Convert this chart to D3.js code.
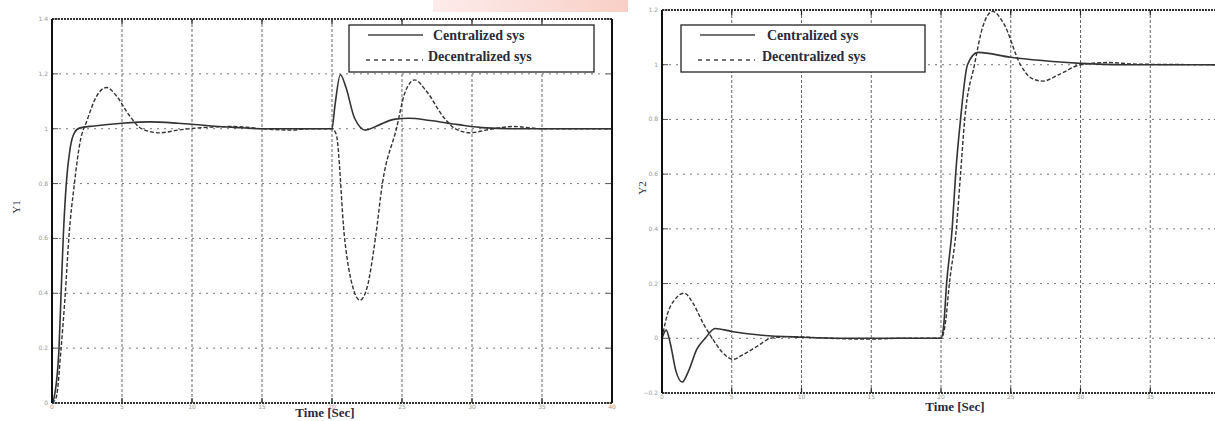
<!DOCTYPE html>
<html>
<head>
<meta charset="utf-8">
<script src="https://cdn.jsdelivr.net/npm/d3@7"></script>
<style>
  body{margin:0;background:#fff;}
  svg{display:block;}
  .grid_h{stroke:#777;stroke-width:1;stroke-dasharray:2,5;}
  .grid_v{stroke:#666;stroke-width:1;stroke-dasharray:3,2;}
  .tick_txt{font-family:"DejaVu Sans",sans-serif;font-size:6px;fill:#999;}
  .leg_txt{font-family:"Liberation Serif",serif;font-size:14px;font-weight:bold;fill:#2a2a3a;}
  .axis_lbl{font-family:"Liberation Serif",serif;font-size:13px;font-weight:bold;fill:#2a2a40;}
</style>
</head>
<body>
<svg></svg>
<script>
// time axis ticks (sec)
const x_ticks = [0,5,10,15,20,25,30,35,40];
const y1_ticks = [0,0.2,0.4,0.6,0.8,1,1.2,1.4];
const y2_ticks = [-0.2,0,0.2,0.4,0.6,0.8,1,1.2];
const leg_names = ['Centralized  sys','Decentralized sys'];

// Y1 response [t, y]
const y1_cen = [[0,0],[0.15,0.02],[0.5,0.2],[0.65,0.4],[0.8,0.6],[1.02,0.8],[1.3,0.93],[1.6,0.985],[2,1.003],[3,1.01],[5,1.02],[7,1.025],[9,1.02],[11,1.012],[13,1.005],[15,1.0],[20,1.0],
  [20.2,1.08],[20.6,1.197],[21,1.15],[21.6,1.04],[22.4,0.995],[23.2,1.01],[24.5,1.035],[25.5,1.038],[27,1.03],[29,1.015],[31,1.003],[33,1.0],[40,1.0]];
const y1_dec = [[0,0],[0.3,0.02],[0.65,0.2],[0.95,0.4],[1.2,0.6],[1.6,0.8],[2.0,0.95],[2.5,1.03],[3.2,1.12],[3.9,1.15],[4.6,1.12],[5.5,1.05],[6.4,1.0],[7.7,0.985],[9,0.995],[11,1.005],[13,1.008],[15,1.0],[17,0.995],[18.5,1.0],[20,1.0],
  [20.3,0.98],[20.9,0.6],[21.5,0.42],[22,0.375],[22.5,0.42],[23.1,0.6],[23.6,0.8],[24.6,1.0],[25.2,1.13],[25.9,1.178],[26.7,1.14],[28,1.04],[28.8,1.0],[29.9,0.985],[31,0.995],[33,1.008],[35,1.0],[40,1.0]];

// Y2 response [t, y]
const y2_cen = [[0,0],[0.3,0.03],[0.6,-0.02],[1.0,-0.12],[1.45,-0.16],[1.9,-0.12],[2.5,-0.04],[3.1,0.0],[3.8,0.036],[5,0.025],[7,0.012],[10,0.004],[13,0.0],[20,0],
  [20.2,0.05],[20.4,0.2],[20.8,0.4],[21.05,0.6],[21.4,0.8],[21.9,1.0],[22.65,1.045],[25,1.027],[28,1.012],[30,1.005],[33,1.0],[40,1.0]];
const y2_dec = [[0,0],[0.4,0.09],[0.9,0.14],[1.6,0.165],[2.2,0.13],[3.0,0.05],[3.6,0.0],[4.3,-0.05],[5.1,-0.077],[5.8,-0.06],[6.8,-0.03],[7.8,0.0],[9,0.006],[10.5,0.004],[12,0.0],[15,-0.003],[17,0],[20,0],
  [20.3,0.05],[20.6,0.2],[21.1,0.4],[21.4,0.6],[21.7,0.8],[22.4,1.0],[23,1.14],[23.7,1.195],[24.5,1.15],[25.7,1.0],[26.5,0.95],[27.3,0.94],[28.5,0.965],[30,1.0],[32,1.008],[34,1.002],[40,1.0]];

const W = 1215, H = 421;
const svg = d3.select("svg").attr("width",W).attr("height",H);

// pink strip on top
const defs = svg.append("defs");
const gr = defs.append("linearGradient").attr("id","pink");
gr.append("stop").attr("offset","0%").attr("stop-color","#fdeceb");
gr.append("stop").attr("offset","100%").attr("stop-color","#f8cfc6");
svg.append("rect").attr("x",433).attr("y",0).attr("width",195).attr("height",12).attr("fill","url(#pink)");

function draw_panel(p){
  const x = d3.scaleLinear().domain([0,40]).range([p.x0,p.x1]);
  const y = d3.scaleLinear().domain(p.ydom).range([p.y1,p.y0]);
  const g = svg.append("g");

  // grid
  g.selectAll(".grid_h").data(p.yt.slice(1,-1)).enter().append("line").attr("class","grid_h")
    .attr("x1",p.x0).attr("x2",p.x1).attr("y1",d=>y(d)).attr("y2",d=>y(d));
  g.selectAll(".grid_v").data(x_ticks.slice(1,-1)).enter().append("line").attr("class","grid_v")
    .attr("x1",d=>x(d)).attr("x2",d=>x(d)).attr("y1",p.y0).attr("y2",p.y1);

  // tick marks
  x_ticks.forEach(t=>{
    g.append("line").attr("x1",x(t)).attr("x2",x(t)).attr("y1",p.y0).attr("y2",p.y0+5).attr("stroke","#222").attr("stroke-width",1.2);
    g.append("line").attr("x1",x(t)).attr("x2",x(t)).attr("y1",p.y1).attr("y2",p.y1-5).attr("stroke","#222").attr("stroke-width",1.2);
  });
  p.yt.forEach(t=>{
    g.append("line").attr("x1",p.x0).attr("x2",p.x0+6).attr("y1",y(t)).attr("y2",y(t)).attr("stroke","#555").attr("stroke-width",1);
    g.append("line").attr("x1",p.x1).attr("x2",p.x1-6).attr("y1",y(t)).attr("y2",y(t)).attr("stroke","#555").attr("stroke-width",1);
  });

  // tick labels (only the ones inside the window)
  g.selectAll(".ytl").data(p.yt).enter().append("text").attr("class","tick_txt")
    .attr("x",p.x0-4).attr("y",d=>y(d)+2).attr("text-anchor","end").text(d=>d3.format("~g")(d));
  g.selectAll(".xtl").data(x_ticks.filter(t=>x(t)<W-6)).enter().append("text").attr("class","tick_txt")
    .attr("x",d=>x(d)).attr("y",p.y1+6).attr("text-anchor","middle").text(d=>d);

  // curves
  const line = d3.line().x(d=>x(d[0])).y(d=>y(d[1])).curve(d3.curveMonotoneX);
  g.append("path").datum(p.cen).attr("d",line).attr("fill","none").attr("stroke","#333").attr("stroke-width",1.6);
  g.append("path").datum(p.dec).attr("d",line).attr("fill","none").attr("stroke","#333").attr("stroke-width",1.4).attr("stroke-dasharray","4,2");

  // frame
  g.append("line").attr("x1",p.x0).attr("x2",p.x1).attr("y1",p.y0).attr("y2",p.y0).attr("stroke","#333").attr("stroke-width",2).attr("stroke-dasharray","2,1");
  g.append("line").attr("x1",p.x0).attr("x2",p.x1).attr("y1",p.y1).attr("y2",p.y1).attr("stroke","#333").attr("stroke-width",2).attr("stroke-dasharray","2,1");
  g.append("line").attr("x1",p.x0).attr("x2",p.x0).attr("y1",p.y0).attr("y2",p.y1).attr("stroke","#111").attr("stroke-width",2);
  g.append("line").attr("x1",p.x1).attr("x2",p.x1).attr("y1",p.y0).attr("y2",p.y1).attr("stroke","#111").attr("stroke-width",2);

  // legend
  const lg = g.append("g").attr("transform","translate("+p.lx+","+p.ly+")");
  lg.append("rect").attr("width",p.lw).attr("height",47).attr("fill","#fff").attr("stroke","#222").attr("stroke-width",1.3);
  lg.append("line").attr("x1",p.l1).attr("x2",p.l1+55).attr("y1",10).attr("y2",10).attr("stroke","#444").attr("stroke-width",1.3);
  lg.append("line").attr("x1",p.l1-2).attr("x2",p.l1+55).attr("y1",35).attr("y2",35).attr("stroke","#444").attr("stroke-width",1.3).attr("stroke-dasharray","4,4");
  lg.append("text").attr("class","leg_txt").attr("x",p.t1).attr("y",15).text(leg_names[0]);
  lg.append("text").attr("class","leg_txt").attr("x",p.t1-5).attr("y",36).text(leg_names[1]);

  // axis labels
  g.append("text").attr("class","axis_lbl").attr("text-anchor","middle")
    .attr("transform","translate("+p.yl[0]+","+p.yl[1]+") rotate(-90)").style("font-size","11px").style("font-weight","normal").text(p.ylabel);
  g.append("text").attr("class","axis_lbl").attr("text-anchor","middle")
    .attr("x",p.xl).attr("y",Math.min(p.y1+18,417)).text("Time [Sec]");
}

draw_panel({x0:52,x1:612,y0:19,y1:403,ydom:[0,1.4],yt:y1_ticks,cen:y1_cen,dec:y1_dec,
  lx:349,ly:25,lw:245,l1:19,t1:84,ylabel:"Y1",yl:[20,207],xl:325});
draw_panel({x0:662,x1:1220,y0:10,y1:393,ydom:[-0.2,1.2],yt:y2_ticks,cen:y2_cen,dec:y2_dec,
  lx:681,ly:25,lw:244,l1:19,t1:86,ylabel:"Y2",yl:[646,188],xl:955});
</script>
</body>
</html>
